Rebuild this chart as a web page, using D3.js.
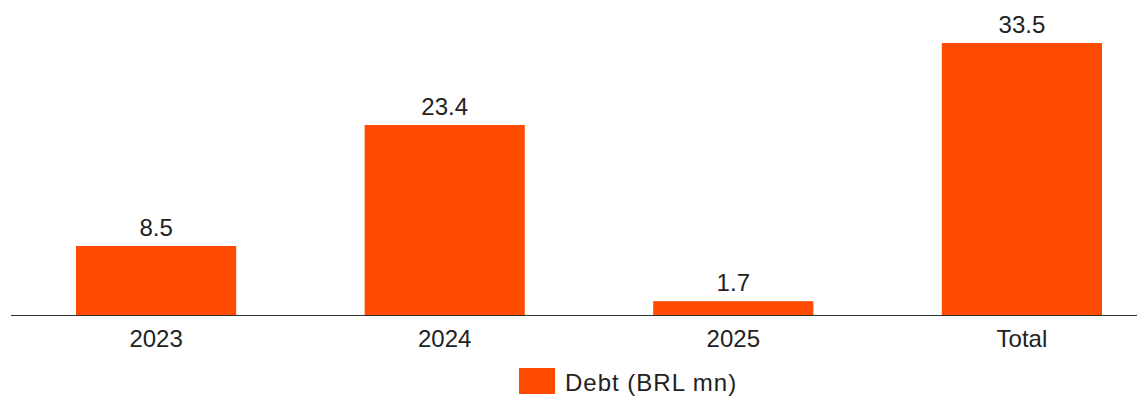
<!DOCTYPE html>
<html>
<head>
<meta charset="utf-8">
<script src="https://cdn.jsdelivr.net/npm/d3@7"></script>
<style>
  html, body { margin: 0; padding: 0; background: #fff; }
  svg text { font-family: "Liberation Sans", Arial, sans-serif; fill: #222; }
</style>
</head>
<body>
<svg id="chart"></svg>
<script>
const categories = ['2023', '2024', '2025', 'Total'];
const debtValues = [8.5, 23.4, 1.7, 33.5];
const seriesName = 'Debt (BRL mn)';

const width = 1137;
const height = 396;
const baseline = 315;
const barColor = '#ff4b00';

const svg = d3.select('#chart')
    .attr('width', width)
    .attr('height', height);

const xScale = d3.scaleBand()
    .domain(categories)
    .range([76, 1102])
    .paddingInner(0.445)
    .paddingOuter(0);

const yScale = d3.scaleLinear()
    .domain([0, 33.5])
    .range([baseline, 43]);

const data = categories.map((c, i) => ({ name: c, value: debtValues[i] }));

svg.append('g')
    .selectAll('.bar')
    .data(data)
    .enter()
    .append('rect')
    .attr('class', 'bar')
    .attr('x', (d) => xScale(d.name))
    .attr('y', (d) => yScale(d.value))
    .attr('width', xScale.bandwidth())
    .attr('height', (d) => baseline - yScale(d.value))
    .style('fill', barColor);

// value labels
svg.append('g')
    .selectAll('.label')
    .data(data)
    .enter()
    .append('text')
    .attr('class', 'label')
    .attr('x', (d) => xScale(d.name) + xScale.bandwidth() / 2)
    .attr('y', (d) => yScale(d.value) - 10)
    .attr('text-anchor', 'middle')
    .style('font-size', '24px')
    .text((d) => d.value.toFixed(1));

// x axis
const xAxis = svg.append('g')
    .attr('transform', `translate(0,${baseline})`)
    .call(d3.axisBottom(xScale).tickSize(0).tickPadding(10));
xAxis.select('.domain').remove();
xAxis.selectAll('text')
    .attr('dy', null)
    .attr('y', 32)
    .style('font-size', '24px')
    .style('font-family', '"Liberation Sans", Arial, sans-serif')
    .style('fill', '#222');

svg.append('line')
    .attr('x1', 11)
    .attr('x2', width)
    .attr('y1', baseline + 0.5)
    .attr('y2', baseline + 0.5)
    .attr('stroke', '#333')
    .attr('stroke-width', 1.2);

// legend
const legend = svg.append('g').attr('transform', 'translate(519,368)');
legend.append('rect')
    .attr('width', 36)
    .attr('height', 26)
    .style('fill', barColor);
legend.append('text')
    .attr('x', 46)
    .attr('y', 23)
    .style('font-size', '24px')
    .style('letter-spacing', '1px')
    .text(seriesName);
</script>
</body>
</html>
